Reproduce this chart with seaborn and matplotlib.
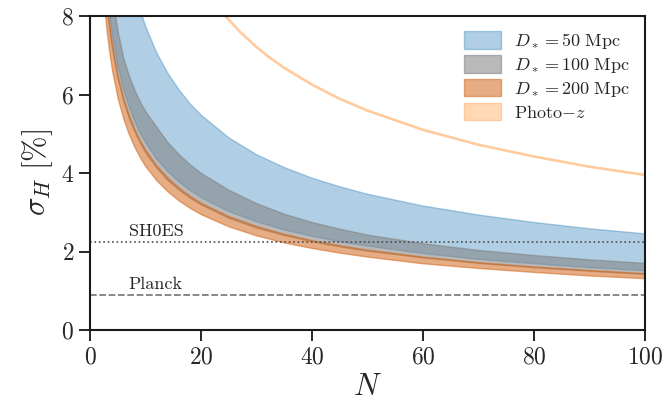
import numpy as np
import pandas as pd
import matplotlib
matplotlib.use("Agg")
import matplotlib.pyplot as plt
from matplotlib.patches import Patch
import seaborn as sns

# -----------------------------------------------------------------------------
# Data
# -----------------------------------------------------------------------------
n_sn = [2, 2.5, 3, 3.5, 4, 5, 6, 7, 8, 9, 10, 12, 14, 16, 18, 20, 25, 30, 35,
        40, 45, 50, 60, 70, 80, 90, 100]

d50_hi = [17.32, 15.50, 14.14, 13.10, 12.25, 10.96, 10.00, 9.26, 8.66, 8.17,
          7.75, 7.07, 6.55, 6.13, 5.77, 5.48, 4.90, 4.47, 4.14, 3.87, 3.65,
          3.46, 3.16, 2.93, 2.74, 2.58, 2.45]
d50_lo = [10.68, 9.55, 8.72, 8.07, 7.55, 6.75, 6.16, 5.71, 5.34, 5.03, 4.78,
          4.36, 4.04, 3.78, 3.56, 3.38, 3.02, 2.76, 2.55, 2.39, 2.25, 2.14,
          1.95, 1.80, 1.69, 1.59, 1.51]

d100_hi = [12.02, 10.75, 9.81, 9.09, 8.50, 7.60, 6.94, 6.48, 6.12, 5.82, 5.57,
           5.17, 4.78, 4.48, 4.22, 4.00, 3.57, 3.23, 2.96, 2.75, 2.58, 2.43,
           2.21, 2.04, 1.91, 1.80, 1.71]
d100_lo = [10.11, 9.04, 8.26, 7.64, 7.15, 6.40, 5.84, 5.40, 5.06, 4.77, 4.52,
           4.13, 3.82, 3.58, 3.37, 3.20, 2.86, 2.61, 2.42, 2.26, 2.13, 2.02,
           1.85, 1.71, 1.60, 1.51, 1.43]

d200_hi = [10.25, 9.17, 8.37, 7.75, 7.25, 6.48, 5.92, 5.48, 5.13, 4.83, 4.59,
           4.19, 3.88, 3.63, 3.42, 3.24, 2.90, 2.65, 2.45, 2.29, 2.16, 2.05,
           1.87, 1.73, 1.62, 1.53, 1.45]
d200_lo = [9.33, 8.35, 7.62, 7.06, 6.60, 5.90, 5.39, 4.99, 4.67, 4.40, 4.17,
           3.81, 3.53, 3.30, 3.11, 2.95, 2.64, 2.41, 2.23, 2.09, 1.97, 1.87,
           1.70, 1.58, 1.48, 1.39, 1.32]

n_photo = [18, 20, 22, 24, 27, 30, 32, 35, 40, 45, 50, 60, 70, 80, 90, 100]
photo_z = [9.31, 8.83, 8.42, 8.06, 7.60, 7.21, 6.98, 6.68, 6.25, 5.89, 5.59,
           5.10, 4.72, 4.42, 4.16, 3.95]

sh0es = 2.25
planck = 0.9

# -----------------------------------------------------------------------------
# Style
# -----------------------------------------------------------------------------
sns.set_theme(style="ticks")
plt.rcParams["font.family"] = ["cmr10", "DejaVu Serif"]
plt.rcParams["mathtext.fontset"] = "cm"
plt.rcParams["axes.unicode_minus"] = False
plt.rcParams["axes.formatter.use_mathtext"] = True

fig, ax = plt.subplots(figsize=(6.65, 4.17), dpi=100)
fig.subplots_adjust(left=0.1353, right=0.970, bottom=0.2086, top=0.9616)

# -----------------------------------------------------------------------------
# Plot
# -----------------------------------------------------------------------------
bands = [
    (d50_lo, d50_hi, "tab:blue", 0.35, r"$D_* = 50\ \mathrm{Mpc}$"),
    (d100_lo, d100_hi, "gray", 0.55, r"$D_* = 100\ \mathrm{Mpc}$"),
    (d200_lo, d200_hi, "chocolate", 0.55, r"$D_* = 200\ \mathrm{Mpc}$"),
]
handles = []
for lo, hi, col, a, lab in bands:
    h = ax.fill_between(n_sn, lo, hi, color=col, alpha=a, lw=1, label=lab)
    handles.append(h)

df_photo = pd.DataFrame({"N": n_photo, "sigma": photo_z})
sns.lineplot(data=df_photo, x="N", y="sigma", ax=ax, color="tab:orange",
             alpha=0.4, lw=1.9, errorbar=None)
handles.append(Patch(facecolor="tab:orange", edgecolor="tab:orange",
                     alpha=0.3, label=r"Photo$-z$"))

ax.axhline(sh0es, color="0.3", ls=":", lw=1.2)
ax.axhline(planck, color="0.45", ls=(0, (4, 1.6)), lw=1.2)
ax.text(7, sh0es + 0.08, "SH0ES", fontsize=13, va="bottom")
ax.text(7, planck + 0.08, "Planck", fontsize=13, va="bottom")

ax.set_xlim(0, 100)
ax.set_ylim(0, 8)
ax.set_xticks([0, 20, 40, 60, 80, 100])
ax.set_yticks([0, 2, 4, 6, 8])
ax.set_xlabel(r"$N$", fontsize=22)
ax.set_ylabel(r"$\sigma_H\ [\%]$", fontsize=22)
ax.tick_params(labelsize=17, length=8, width=1.4, direction="out")
for s in ax.spines.values():
    s.set_linewidth(1.5)
    s.set_color("0.1")

ax.legend(handles=handles, loc="upper right", frameon=False, fontsize=13,
          handlelength=2.05, handleheight=1.1, handletextpad=0.7,
          labelspacing=0.22, borderaxespad=0.45)

plt.savefig("out.png", dpi=100)
